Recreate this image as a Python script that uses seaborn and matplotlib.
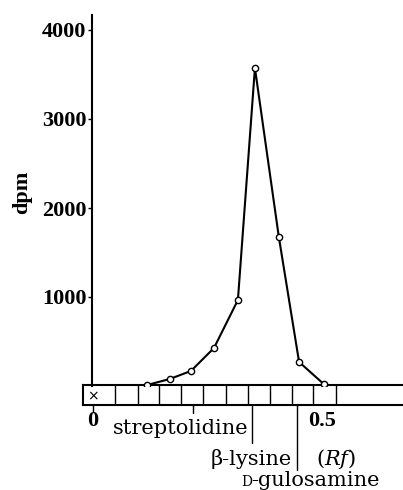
import matplotlib
matplotlib.use('Agg')
from matplotlib import pyplot as plt
import matplotlib.transforms as mtransforms
import seaborn as sns
import pandas as pd

# Rf of each counted fraction and its radioactivity
rf = [0.117, 0.167, 0.213, 0.263, 0.315, 0.352, 0.404, 0.448, 0.502]
dpm = [10, 79, 169, 427, 966, 3573, 1674, 270, 20]

# cut lines of the paper strip (Rf)
cell_edges = [0.048, 0.098, 0.143, 0.191, 0.239, 0.289, 0.337, 0.385, 0.433, 0.478, 0.528]

# reference compounds (Rf)
ref_names = ['streptolidine', 'β-lysine', 'D-gulosamine']
ref_rf = [0.217, 0.346, 0.443]

y_ticks = [1000, 2000, 3000, 4000]


def fx(px):
    return px / 403


def fy(py):
    return 1 - py / 490


if __name__ == '__main__':
    sns.set_style('white')
    plt.rcParams['mathtext.fontset'] = 'dejavuserif'
    plt.rcParams['text.color'] = 'black'
    plt.rcParams['ytick.color'] = 'black'
    num_font = dict(family='Liberation Serif', weight='bold', size=16, color='black')
    name_font = dict(family='DejaVu Serif', size=15, color='black')

    data = pd.DataFrame({'rf': rf, 'dpm': dpm})

    fig = plt.figure(figsize=(4.03, 4.90), dpi=100)
    ax = fig.add_axes([fx(92), fy(386), fx(403 - 92), (386 - 15) / 490])
    sns.lineplot(data=data, x='rf', y='dpm', ax=ax, color='black', linewidth=1.5,
                 marker='o', markersize=4.5, markerfacecolor='white',
                 markeredgecolor='black', markeredgewidth=1.0)
    ax.set_xlim((92 - 93) / 460, (403 - 93) / 460)
    ax.set_ylim(0, (386 - 15) / 0.089)
    for s in ['top', 'right', 'bottom']:
        ax.spines[s].set_visible(False)
    ax.spines['left'].set_color('black')
    ax.spines['left'].set_linewidth(1.5)
    ax.set_xticks([])
    ax.set_yticks(y_ticks)
    ax.set_yticklabels([str(v) for v in y_ticks], fontdict=num_font)
    ax.tick_params(axis='y', left=True, length=3, width=1, color='black', pad=1)
    ax.set_xlabel('')
    ax.set_ylabel('')
    ax.patch.set_alpha(0)
    fig.text(fx(22), fy(192), 'dpm', rotation=90, ha='center', va='center', **num_font)

    # paper strip
    strip = fig.add_axes([fx(83), fy(405), fx(403 - 83), 20 / 490])
    strip.set_xlim((83 - 93) / 460, (403 - 93) / 460)
    strip.set_ylim(0, 1)
    strip.set_xticks([])
    strip.set_yticks([])
    for s in ['top', 'bottom', 'left']:
        strip.spines[s].set_color('black')
        strip.spines[s].set_linewidth(1.5)
    strip.spines['right'].set_visible(False)
    for e in cell_edges:
        strip.axvline(e, color='black', linewidth=1.0)
    strip.text(0, 0.45, '×', ha='center', va='center', fontsize=10, family='DejaVu Sans', color='black')
    strip.set_zorder(-1)

    trans = mtransforms.blended_transform_factory(strip.transData, fig.transFigure)
    # axis numbers under the strip
    strip.text(0, fy(421), '0', transform=trans, ha='center', va='center', **num_font)
    strip.text(0.497, fy(421), '0.5', transform=trans, ha='center', va='center', **num_font)
    strip.plot([0, 0], [fy(405), fy(412)], transform=trans, color='black', lw=1, clip_on=False)

    # markers for reference compounds
    strip.plot([ref_rf[0]] * 2, [fy(405), fy(413)], transform=trans, color='black', lw=1, clip_on=False)
    strip.plot([ref_rf[1]] * 2, [fy(405), fy(443)], transform=trans, color='black', lw=1, clip_on=False)
    strip.plot([ref_rf[2]] * 2, [fy(405), fy(470)], transform=trans, color='black', lw=1, clip_on=False)

    fig.text(fx(249), fy(434), ref_names[0], ha='right', va='baseline', **name_font)
    fig.text(fx(292), fy(465), ref_names[1], ha='right', va='baseline', **name_font)
    fig.text(fx(241), fy(486), 'D', ha='left', va='baseline', family='DejaVu Serif', size=10, color='black')
    fig.text(fx(251), fy(486), '-gulosamine', ha='left', va='baseline', **name_font)
    fig.text(fx(336), fy(465), r'$(Rf)$', ha='center', va='baseline', size=15, color='black')

    fig.savefig('out.png', dpi=100)
